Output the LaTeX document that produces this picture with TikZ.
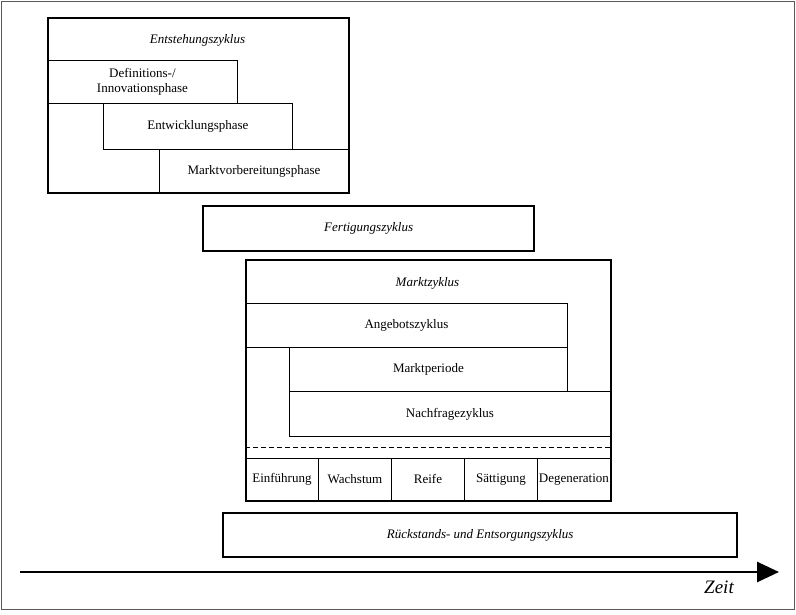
\documentclass[tikz,border=0pt]{standalone}
\usepackage{fontspec}
\setmainfont{Liberation Serif}
\usetikzlibrary{arrows.meta}
\begin{document}
\begin{tikzpicture}[x=1pt,y=-1pt,
  txt/.style={font=\fontsize{13}{14.5}\selectfont, align=center},
  ittxt/.style={font=\fontsize{13}{14.5}\selectfont\itshape},
  thin box/.style={draw, line width=0.9pt, anchor=north west, inner sep=0pt, txt},
  thick box/.style={draw, line width=2.3pt, anchor=north west, inner sep=0pt, txt},
  cell/.style={draw, line width=0.9pt, anchor=north west, inner sep=0pt, minimum width=73pt, minimum height=42pt, txt}]
\useasboundingbox (0,0) rectangle (796,614);
\draw[line width=1pt, black!65] (1.5,1.5) rectangle (794,609);

% Entstehungszyklus
\node[thin box, minimum width=190pt, minimum height=43pt] (def) at (47,60) {Definitions-/\\Innovationsphase};
\node[thin box, minimum width=189pt, minimum height=46pt] (entw) at (103,103) {Entwicklungsphase};
\node[thin box, minimum width=189pt, minimum height=43pt] (mv) at (159,149) {Marktvorbereitungsphase};
\node[thick box, minimum width=301pt, minimum height=175pt] (ent) at (47,17) {};
\node[ittxt] (entt) at (197.5,40) {Entstehungszyklus};

% Fertigungszyklus
\node[thick box, minimum width=331pt, minimum height=45pt, ittxt] (fert) at (202,205) {Fertigungszyklus};

% Marktzyklus
\node[thin box, minimum width=322pt, minimum height=44pt] (ang) at (245,303) {Angebotszyklus};
\node[thin box, minimum width=278pt, minimum height=44pt] (mp) at (289,347) {Marktperiode};
\node[thin box, minimum width=321pt, minimum height=45pt] (nach) at (289,391) {Nachfragezyklus};
\coordinate (dl) at (245,447);
\coordinate (dr) at (610,447);
\draw[line width=0.9pt, dash pattern=on 5pt off 3pt] (dl) -- (dr);
\node[cell] (c1) at (245,458) {Einführung};
\node[cell] (c2) at (318,458) {Wachstum};
\node[cell] (c3) at (391,458) {Reife};
\node[cell] (c4) at (464,458) {Sättigung};
\node[cell] (c5) at (537,458) {Degeneration};
\node[thick box, minimum width=365pt, minimum height=241pt] (markt) at (245,259) {};
\node[ittxt] (marktt) at (427.5,283) {Marktzyklus};

% Rückstands
\node[thick box, minimum width=514pt, minimum height=44pt, ittxt] (rueck) at (222,512) {Rückstands- und Entsorgungszyklus};

% Zeitachse
\coordinate (a0) at (20,572);
\coordinate (a1) at (779,572);
\draw[line width=2.8pt, -{Triangle[length=22pt,width=20pt]}] (a0) -- (a1);
\node[font=\fontsize{19}{21}\selectfont\itshape] (zeit) at (719,587) {Zeit};
\end{tikzpicture}
\end{document}
